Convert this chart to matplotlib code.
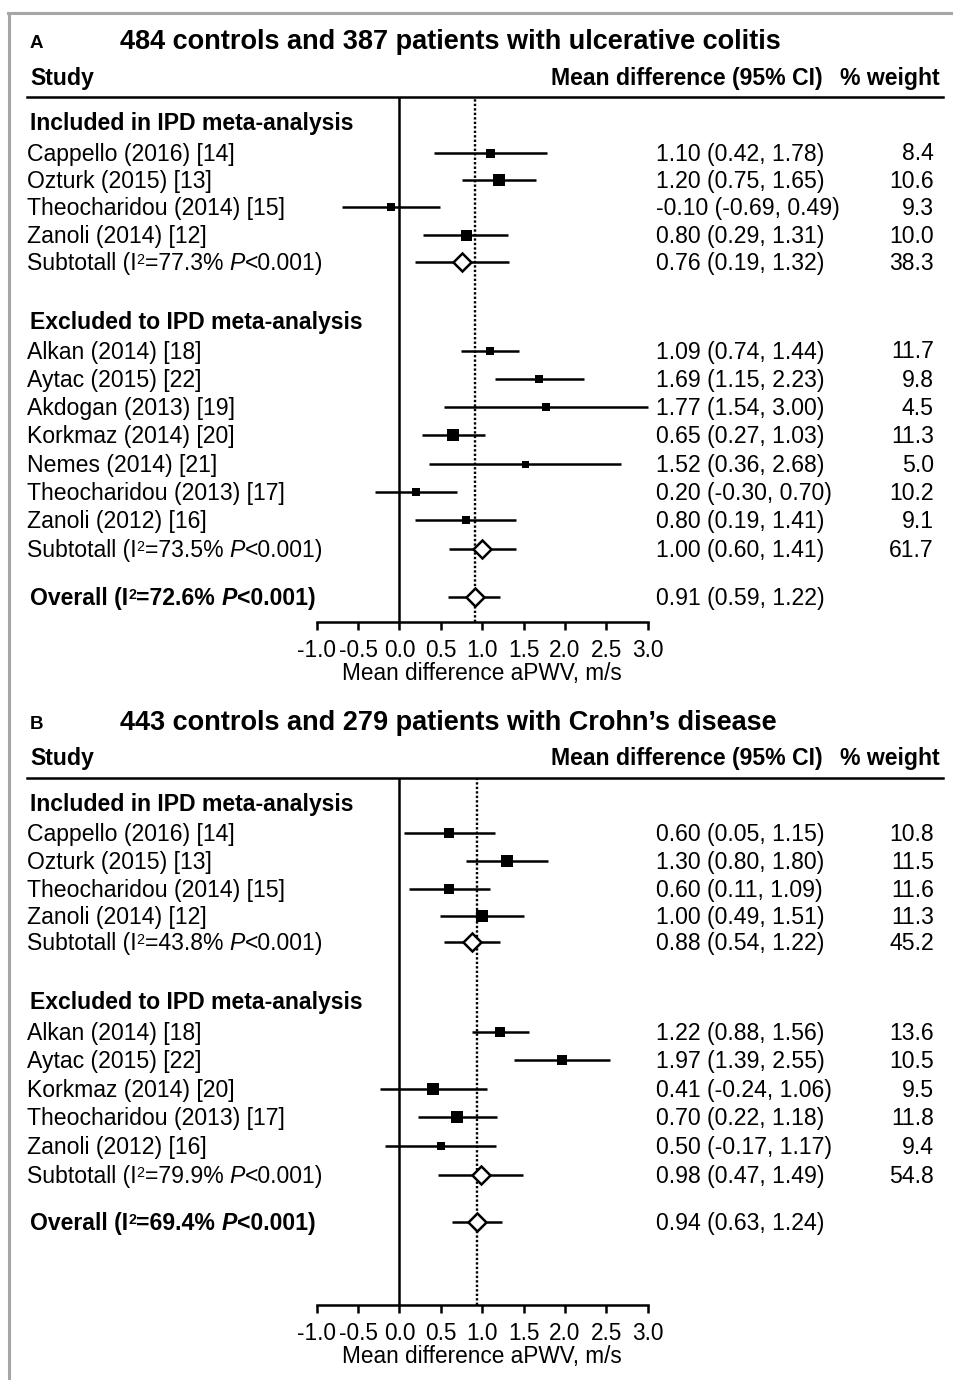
import matplotlib
matplotlib.use("Agg")
import matplotlib.pyplot as plt
from matplotlib.transforms import blended_transform_factory
from matplotlib.lines import Line2D

plt.rcParams['font.family'] = ['Liberation Sans', 'DejaVu Sans']

# ---------------- data ----------------
x_ticks = [-1.0, -0.5, 0.0, 0.5, 1.0, 1.5, 2.0, 2.5, 3.0]
x_label = "Mean difference aPWV, m/s"
col_study = "Study"
col_md = "Mean difference (95% CI)"
col_w = "% weight"
grp_inc = "Included in IPD meta-analysis"
grp_exc = "Excluded to IPD meta-analysis"

# Panel A: ulcerative colitis
A_title = "484 controls and 387 patients with ulcerative colitis"
A_inc_study = ["Cappello (2016) [14]", "Ozturk (2015) [13]",
               "Theocharidou (2014) [15]", "Zanoli (2014) [12]"]
A_inc_est = [1.10, 1.20, -0.10, 0.80]
A_inc_lo = [0.42, 0.75, -0.69, 0.29]
A_inc_hi = [1.78, 1.65, 0.49, 1.31]
A_inc_ci = ["1.10 (0.42, 1.78)", "1.20 (0.75, 1.65)",
            "-0.10 (-0.69, 0.49)", "0.80 (0.29, 1.31)"]
A_inc_w = [8.4, 10.6, 9.3, 10.0]
A_inc_sub = [0.76, 0.19, 1.32]
A_inc_sub_ci = "0.76 (0.19, 1.32)"
A_inc_sub_w = 38.3
A_inc_sub_i2 = "77.3%"

A_exc_study = ["Alkan (2014) [18]", "Aytac (2015) [22]", "Akdogan (2013) [19]",
               "Korkmaz (2014) [20]", "Nemes (2014) [21]",
               "Theocharidou (2013) [17]", "Zanoli (2012) [16]"]
A_exc_est = [1.09, 1.69, 1.77, 0.65, 1.52, 0.20, 0.80]
A_exc_lo = [0.74, 1.15, 0.54, 0.27, 0.36, -0.30, 0.19]
A_exc_hi = [1.44, 2.23, 3.00, 1.03, 2.68, 0.70, 1.41]
A_exc_ci = ["1.09 (0.74, 1.44)", "1.69 (1.15, 2.23)", "1.77 (1.54, 3.00)",
            "0.65 (0.27, 1.03)", "1.52 (0.36, 2.68)", "0.20 (-0.30, 0.70)",
            "0.80 (0.19, 1.41)"]
A_exc_w = [11.7, 9.8, 4.5, 11.3, 5.0, 10.2, 9.1]
A_exc_sub = [1.00, 0.60, 1.41]
A_exc_sub_ci = "1.00 (0.60, 1.41)"
A_exc_sub_w = 61.7
A_exc_sub_i2 = "73.5%"

A_overall = [0.91, 0.59, 1.22]
A_overall_ci = "0.91 (0.59, 1.22)"
A_overall_i2 = "72.6%"

# Panel B: Crohn's disease
B_title = "443 controls and 279 patients with Crohn\u2019s disease"
B_inc_study = ["Cappello (2016) [14]", "Ozturk (2015) [13]",
               "Theocharidou (2014) [15]", "Zanoli (2014) [12]"]
B_inc_est = [0.60, 1.30, 0.60, 1.00]
B_inc_lo = [0.05, 0.80, 0.11, 0.49]
B_inc_hi = [1.15, 1.80, 1.09, 1.51]
B_inc_ci = ["0.60 (0.05, 1.15)", "1.30 (0.80, 1.80)",
            "0.60 (0.11, 1.09)", "1.00 (0.49, 1.51)"]
B_inc_w = [10.8, 11.5, 11.6, 11.3]
B_inc_sub = [0.88, 0.54, 1.22]
B_inc_sub_ci = "0.88 (0.54, 1.22)"
B_inc_sub_w = 45.2
B_inc_sub_i2 = "43.8%"

B_exc_study = ["Alkan (2014) [18]", "Aytac (2015) [22]", "Korkmaz (2014) [20]",
               "Theocharidou (2013) [17]", "Zanoli (2012) [16]"]
B_exc_est = [1.22, 1.97, 0.41, 0.70, 0.50]
B_exc_lo = [0.88, 1.39, -0.24, 0.22, -0.17]
B_exc_hi = [1.56, 2.55, 1.06, 1.18, 1.17]
B_exc_ci = ["1.22 (0.88, 1.56)", "1.97 (1.39, 2.55)", "0.41 (-0.24, 1.06)",
            "0.70 (0.22, 1.18)", "0.50 (-0.17, 1.17)"]
B_exc_w = [13.6, 10.5, 9.5, 11.8, 9.4]
B_exc_sub = [0.98, 0.47, 1.49]
B_exc_sub_ci = "0.98 (0.47, 1.49)"
B_exc_sub_w = 54.8
B_exc_sub_i2 = "79.9%"

B_overall = [0.94, 0.63, 1.24]
B_overall_ci = "0.94 (0.63, 1.24)"
B_overall_i2 = "69.4%"

# ---------------- styles (box sizes in px, as drawn) ----------------
A_inc_box = [9, 12, 8.5, 11]
A_exc_box = [8.5, 8.5, 8, 12.5, 7, 8.5, 8]
B_inc_box = [10.5, 12, 10, 11.5]
B_exc_box = [10.5, 10, 12, 11.5, 8.5]

# ---------------- figure ----------------
W, H = 954, 1380
fig = plt.figure(figsize=(W / 100, H / 100), dpi=100)
renderer = fig.canvas.get_renderer()
PT = 0.72  # points per pixel at 100 dpi
FS = 16.6
LW = 1.8


def fx(px):
    return px / W


def fy(py):
    return 1 - py / H


X0_PX, X1_PX = 316.7, 647.7


def draw_panel(letter, title, inc, exc, overall, lay):
    top, axis_y = lay['top'], lay['axis']
    ax = fig.add_axes([fx(X0_PX), fy(axis_y), fx(X1_PX) - fx(X0_PX),
                       (axis_y - top) / H])
    ax.set_xlim(x_ticks[0], x_ticks[-1])
    ax.set_ylim(axis_y, top)
    ax.patch.set_alpha(0)
    for s in ['top', 'right', 'left']:
        ax.spines[s].set_visible(False)
    ax.spines['bottom'].set_linewidth(LW)
    ax.set_yticks([])
    ax.set_xticks(x_ticks)
    ax.set_xticklabels([f"{t:.1f}" for t in x_ticks])
    ax.tick_params(axis='x', direction='out', length=6, width=LW,
                   labelsize=16.3, pad=6)
    ax.set_xlabel(x_label, fontsize=16.3, labelpad=0)

    ax.axvline(0, color='black', lw=LW, zorder=1)
    ax.axvline(overall[0][0], color='black', lw=1.7, ls=(0, (1, 0.9)), zorder=1)

    tr = blended_transform_factory(fig.transFigure, ax.transData)
    off = 8  # baseline offset (px) below the row centre

    def txt(xpx, y, s, ha='left', **kw):
        return ax.text(fx(xpx), y + off, s, transform=tr, ha=ha, va='baseline',
                       fontsize=kw.pop('fontsize', FS), clip_on=False, **kw)

    def rich(xpx, y, i2, head, bold):
        wt = 'bold' if bold else 'normal'
        pieces = [(head + " (I", FS, 'normal', 0),
                  ("2", FS * 0.62, 'normal', -6),
                  ("=" + i2 + " ", FS, 'normal', 0),
                  ("P", FS, 'italic', 0),
                  ("<0.001)", FS, 'normal', 0)]
        x = xpx
        for s, fs, st, dy in pieces:
            t = ax.text(fx(x), y + off + dy, s, transform=tr, ha='left',
                        va='baseline', fontsize=fs, fontweight=wt,
                        fontstyle=st, clip_on=False)
            x += t.get_window_extent(renderer).width

    # headers
    txt(30, lay['title'], letter, fontsize=13.5, fontweight='bold')
    txt(120, lay['title'] + 1, title, fontsize=19.5, fontweight='bold')
    txt(30, lay['study'], col_study, fontweight='bold')
    txt(551, lay['study'], col_md, fontweight='bold')
    txt(940, lay['study'], col_w, ha='right', fontweight='bold')
    fig.add_artist(Line2D([fx(27), fx(943)], [fy(top), fy(top)],
                          color='black', lw=LW))

    for grp, hdr_key, rows_key, step_key, sub_key, name in (
            (inc, 'inc_hdr', 'inc_row', 'inc_step', 'inc_sub', grp_inc),
            (exc, 'exc_hdr', 'exc_row', 'exc_step', 'exc_sub', grp_exc)):
        study, est, lo, hi, ci, w, box, sub, sub_ci, sub_w, sub_i2 = grp
        txt(30, lay[hdr_key], name, fontweight='bold')
        ys = [lay[rows_key] + i * lay[step_key] for i in range(len(study))]
        ax.hlines(ys, lo, hi, color='black', lw=LW, zorder=2, clip_on=False)
        for yv, e, b in zip(ys, est, box):
            ax.plot([e], [yv], marker='s', ms=b * PT, color='black',
                    mew=0, zorder=3, clip_on=False)
        for yv, s, c, ww in zip(ys, study, ci, w):
            txt(27, yv, s)
            txt(656, yv, c)
            txt(934, yv, f"{ww:.1f}", ha='right')
        ys_sub = lay[sub_key]
        ax.hlines([ys_sub], [sub[1]], [sub[2]], color='black', lw=LW, zorder=2)
        ax.plot([sub[0]], [ys_sub], marker='D', ms=9.4, mfc='white',
                mec='black', mew=LW, zorder=4)
        rich(27, ys_sub, sub_i2, "Subtotall", False)
        txt(656, ys_sub, sub_ci)
        txt(934, ys_sub, f"{sub_w:.1f}", ha='right')

    (ov, ov_ci, ov_i2) = overall
    y_ov = lay['overall']
    ax.hlines([y_ov], [ov[1]], [ov[2]], color='black', lw=LW, zorder=2)
    ax.plot([ov[0]], [y_ov], marker='D', ms=9.4, mfc='white',
            mec='black', mew=LW, zorder=4)
    rich(30, y_ov, ov_i2, "Overall", True)
    txt(656, y_ov, ov_ci)
    return ax


lay_A = dict(title=40, study=77, top=97, axis=622,
             inc_hdr=122, inc_row=152.5, inc_step=27.4, inc_sub=262,
             exc_hdr=321, exc_row=350.5, exc_step=28.3, exc_sub=549,
             overall=597)
lay_B = dict(title=721, study=757, top=778, axis=1305,
             inc_hdr=803, inc_row=833, inc_step=27.8, inc_sub=942,
             exc_hdr=1001, exc_row=1032, exc_step=28.5, exc_sub=1175,
             overall=1222)

draw_panel("A", A_title,
           (A_inc_study, A_inc_est, A_inc_lo, A_inc_hi, A_inc_ci, A_inc_w,
            A_inc_box, A_inc_sub, A_inc_sub_ci, A_inc_sub_w, A_inc_sub_i2),
           (A_exc_study, A_exc_est, A_exc_lo, A_exc_hi, A_exc_ci, A_exc_w,
            A_exc_box, A_exc_sub, A_exc_sub_ci, A_exc_sub_w, A_exc_sub_i2),
           (A_overall, A_overall_ci, A_overall_i2), lay_A)
draw_panel("B", B_title,
           (B_inc_study, B_inc_est, B_inc_lo, B_inc_hi, B_inc_ci, B_inc_w,
            B_inc_box, B_inc_sub, B_inc_sub_ci, B_inc_sub_w, B_inc_sub_i2),
           (B_exc_study, B_exc_est, B_exc_lo, B_exc_hi, B_exc_ci, B_exc_w,
            B_exc_box, B_exc_sub, B_exc_sub_ci, B_exc_sub_w, B_exc_sub_i2),
           (B_overall, B_overall_ci, B_overall_i2), lay_B)

# grey frame (left and top edges)
border = '#a6a6a6'
fig.add_artist(Line2D([fx(9.5), fx(9.5)], [fy(13), 0], color=border, lw=2.2))
fig.add_artist(Line2D([fx(8.4), 1], [fy(13), fy(13)], color=border, lw=2.2))

fig.savefig("out.png", dpi=100)
